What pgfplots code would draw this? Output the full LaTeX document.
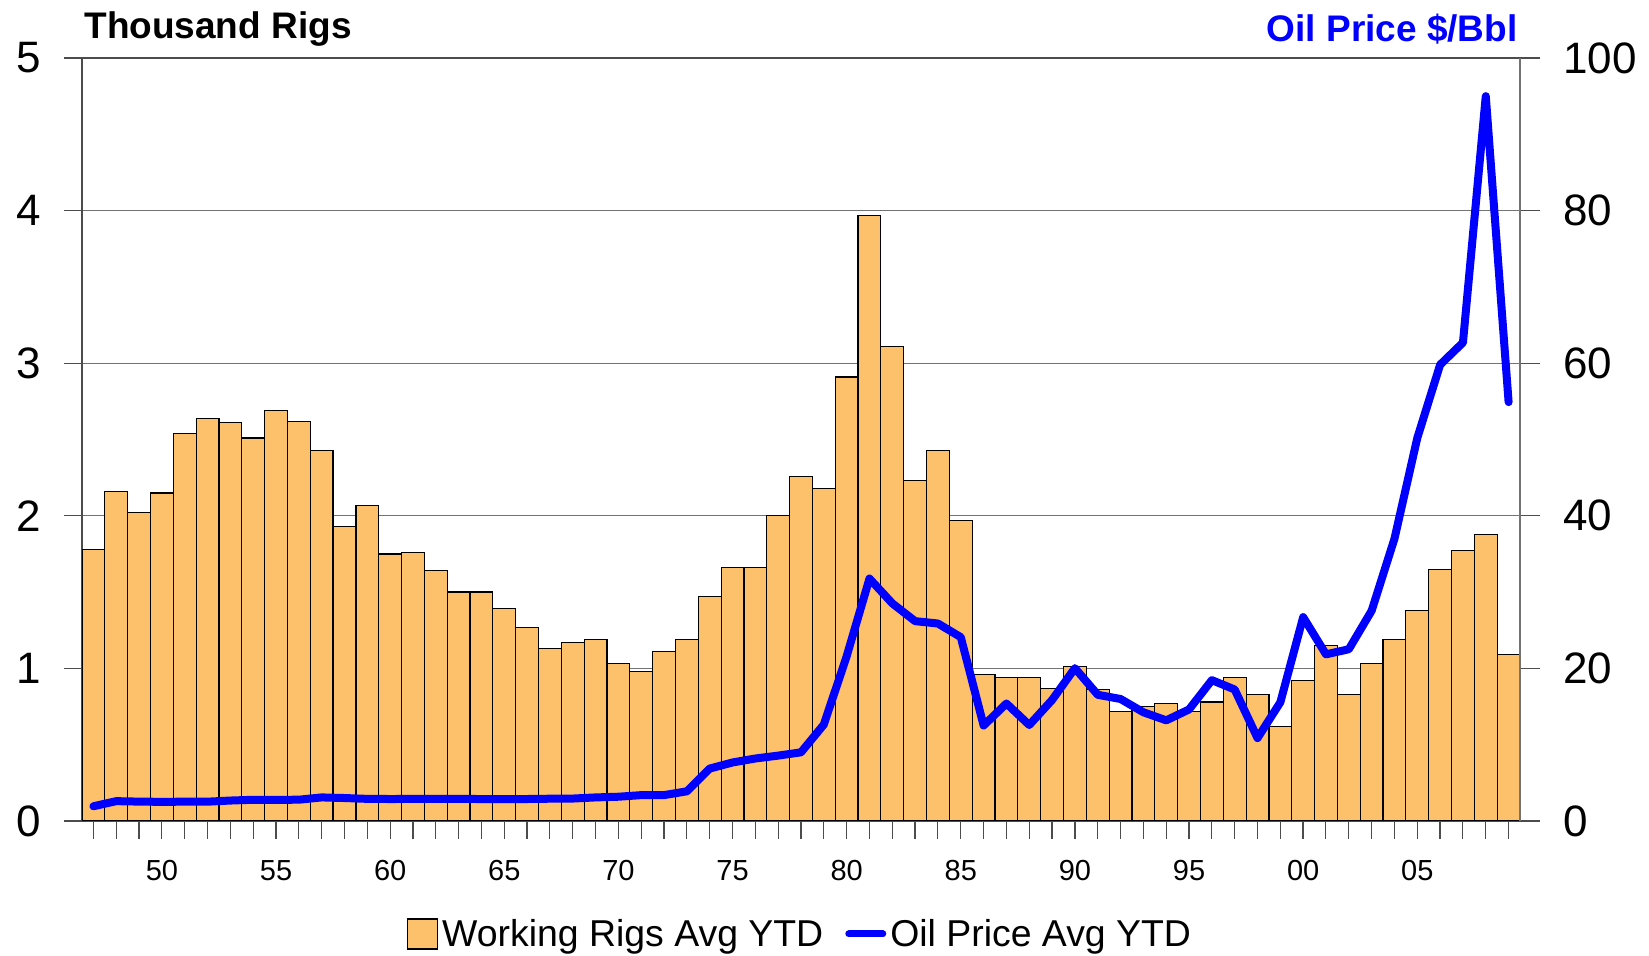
\documentclass[border=0pt]{standalone}
\usepackage{fontspec}
\setmainfont{Liberation Sans}
\usepackage{pgfplots}
\usepackage{pgfplotstable}
\pgfplotsset{compat=1.18}
\definecolor{rigfill}{RGB}{253,192,107}
\definecolor{oilblue}{RGB}{0,0,255}

\pgfplotstableread{
year rigs oil
1947 1.78 1.93
1948 2.16 2.60
1949 2.02 2.54
1950 2.15 2.51
1951 2.54 2.53
1952 2.64 2.53
1953 2.61 2.68
1954 2.51 2.78
1955 2.69 2.77
1956 2.62 2.79
1957 2.43 3.09
1958 1.93 3.01
1959 2.07 2.90
1960 1.75 2.88
1961 1.76 2.89
1962 1.64 2.90
1963 1.50 2.89
1964 1.50 2.88
1965 1.39 2.86
1966 1.27 2.88
1967 1.13 2.92
1968 1.17 2.94
1969 1.19 3.09
1970 1.03 3.18
1971 0.98 3.39
1972 1.11 3.39
1973 1.19 3.89
1974 1.47 6.87
1975 1.66 7.67
1976 1.66 8.19
1977 2.00 8.57
1978 2.26 9.00
1979 2.18 12.64
1980 2.91 21.59
1981 3.97 31.77
1982 3.11 28.52
1983 2.23 26.19
1984 2.43 25.88
1985 1.97 24.09
1986 0.96 12.51
1987 0.94 15.40
1988 0.94 12.58
1989 0.87 15.86
1990 1.01 20.03
1991 0.86 16.54
1992 0.72 15.99
1993 0.75 14.25
1994 0.77 13.19
1995 0.72 14.62
1996 0.78 18.46
1997 0.94 17.23
1998 0.83 10.87
1999 0.62 15.56
2000 0.92 26.72
2001 1.15 21.84
2002 0.83 22.51
2003 1.03 27.56
2004 1.19 37.00
2005 1.38 50.20
2006 1.65 59.80
2007 1.77 62.70
2008 1.88 95.00
2009 1.09 54.90
}\data

\begin{document}
\begin{tikzpicture}
\begin{axis}[
  scale only axis, width=719pt, height=381.5pt,
  xmin=1946.5, xmax=2009.5, ymin=0, ymax=5,
  ytick={0,1,2,3,4,5},
  xtick={1950,1955,...,2005},
  xticklabels={50,55,60,65,70,75,80,85,90,95,00,05},
  minor xtick={1947,...,2009},
  xtick pos=left, ytick pos=left,
  tick align=outside,
  major tick length=9pt, minor tick length=9pt,
  ymajorgrids,
  grid style={black!55, line width=0.5pt},
  axis line style={black!70, line width=0.8pt},
  tick style={black!70, line width=0.6pt},
  /pgf/number format/assume math mode=true,
  yticklabel style={font=\fontsize{22}{22}\selectfont, xshift=-8pt},
  xticklabel style={font=\fontsize{14.5}{14.5}\selectfont, yshift=-7pt},
]
\addplot[ybar, bar width=1, fill=rigfill, draw=black, line width=0.6pt] table[x=year, y=rigs] {\data};
\coordinate (sw) at (rel axis cs:0,0);
\coordinate (ne) at (rel axis cs:1,1);
\end{axis}
\begin{axis}[
  scale only axis, width=719pt, height=381.5pt,
  xmin=1946.5, xmax=2009.5, ymin=0, ymax=100,
  ytick={0,20,...,100},
  axis x line=none, axis y line*=right,
  tick align=outside,
  major tick length=10pt,
  axis line style={black!55, line width=0.8pt},
  tick style={black!70, line width=0.6pt},
  /pgf/number format/assume math mode=true,
  yticklabel style={font=\fontsize{22}{22}\selectfont, xshift=8pt},
  legend style={at={(0.5,0)}, anchor=center, yshift=-56.5pt, draw=none, fill=none,
    legend columns=2, font=\fontsize{18.7}{18.7}\selectfont,
    /tikz/every even column/.style={column sep=9pt}},
]
\addlegendimage{legend image code/.code={\draw[fill=rigfill, draw=black, line width=0.6pt] (1pt,-7.5pt) rectangle (16pt,7.5pt);}}
\addlegendentry{Working Rigs Avg YTD}
\addplot[oilblue, line width=4pt, line join=round, line cap=round,
  legend image code/.code={\draw[oilblue, line width=3.5pt] (1pt,0pt) -- (18pt,0pt);}]
  table[x=year, y=oil] {\data};
\addlegendentry{Oil Price Avg YTD}
\end{axis}
\node[anchor=west, inner sep=0pt, font=\bfseries\fontsize{18.5}{18.5}\selectfont] at ([xshift=1pt, yshift=14.5pt]sw |- ne) {Thousand Rigs};
\node[anchor=east, inner sep=0pt, text=oilblue, font=\bfseries\fontsize{18.5}{18.5}\selectfont] at ([xshift=-1pt, yshift=14.5pt]ne) {Oil Price \$/Bbl};
\pgfresetboundingbox
\path ([shift={(-41pt,-67.5pt)}]sw) rectangle ([shift={(64.5pt,29pt)}]ne);
\end{tikzpicture}
\end{document}
